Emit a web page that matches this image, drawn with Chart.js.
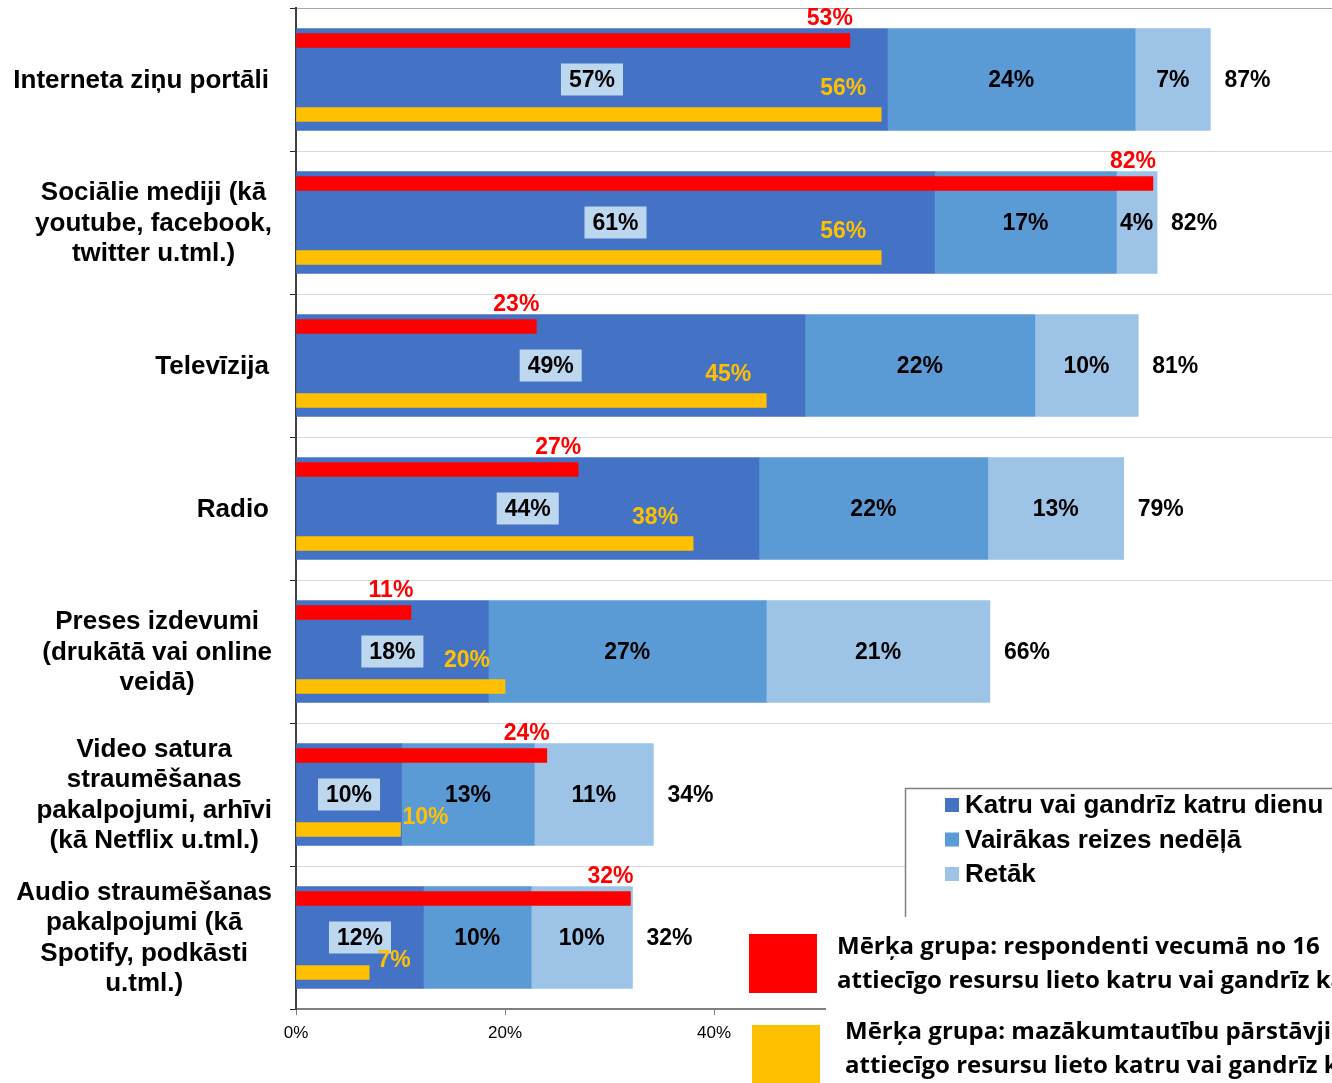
<!DOCTYPE html>
<html>
<head>
<meta charset="utf-8">
<script src="https://cdn.jsdelivr.net/npm/chart.js@4/dist/chart.umd.min.js"></script>
<style>
  html, body { margin: 0; padding: 0; background: #fff; overflow: hidden; }
  #wrap { width: 1341px; height: 1083px; position: relative; }
</style>
</head>
<body>
<div id="wrap"><canvas id="mediaChart" width="1341" height="1083"></canvas></div>
<script>
// kategorijas (rindas)
const categories = [
  ['Interneta ziņu portāli'],
  ['Sociālie mediji (kā', 'youtube, facebook,', 'twitter u.tml.)'],
  ['Televīzija'],
  ['Radio'],
  ['Preses izdevumi', '(drukātā vai online', 'veidā)'],
  ['Video satura', 'straumēšanas', 'pakalpojumi, arhīvi', '(kā Netflix u.tml.)'],
  ['Audio straumēšanas', 'pakalpojumi (kā', 'Spotify, podkāsti', 'u.tml.)']
];

// visi respondenti (%)
const daily  = [56.6, 61.1, 48.7, 44.3, 18.4, 10.1, 12.2];
const weekly = [23.7, 17.4, 22.0, 21.9, 26.6, 12.7, 10.3];
const rarely = [7.2, 3.9, 9.9, 13.0, 21.4, 11.4, 9.7];
const totals = [87, 82, 81, 79, 66, 34, 32];

// mērķa grupas - lieto katru vai gandrīz katru dienu (%)
const youth    = [53, 82, 23, 27, 11, 24, 32];
const minority = [56, 56, 45, 38, 20, 10, 7];

const xTicks = [0, 20, 40];

const seriesNames = ['Katru vai gandrīz katru dienu', 'Vairākas reizes nedēļā', 'Retāk'];
const seriesColors = ['#4472C4', '#5B9BD5', '#9DC3E6'];
const youthLegend = ['Mērķa grupa: respondenti vecumā no 16', 'attiecīgo resursu lieto katru vai gandrīz katru dienu'];
const minorityLegend = ['Mērķa grupa: mazākumtautību pārstāvji', 'attiecīgo resursu lieto katru vai gandrīz katru dienu'];

const ARIAL = "'Liberation Sans', Arial, sans-serif";
Chart.defaults.font.family = ARIAL;
Chart.defaults.color = '#000';

// mazās joslas novietotas virs / zem galvenās joslas
const youthPts = youth.map(function (v, i) { return { x: v, y: i - 0.273 }; });
const minorityPts = minority.map(function (v, i) { return { x: v, y: i + 0.245 }; });

// uzraksti, kategoriju nosaukumi, leģenda
const labelPlugin = {
  id: 'labelPlugin',
  afterDatasetsDraw(chart) {
    const ctx = chart.ctx;
    ctx.save();
    ctx.textBaseline = 'middle';
    ctx.font = 'bold 23px ' + ARIAL;

    // zilie segmenti
    for (let d = 0; d < 3; d++) {
      const meta = chart.getDatasetMeta(d);
      meta.data.forEach(function (el, i) {
        const cx = (el.x + el.base) / 2;
        const txt = Math.round(chart.data.datasets[d].data[i]) + '%';
        if (d === 0) {
          const w = ctx.measureText(txt).width;
          ctx.fillStyle = '#BDD7EE';
          ctx.fillRect(cx - w / 2 - 8, el.y - 16, w + 16, 32);
        }
        ctx.fillStyle = '#000';
        ctx.textAlign = 'center';
        ctx.fillText(txt, cx, el.y + 1);
        if (d === 2) {
          ctx.textAlign = 'left';
          ctx.fillText(totals[i] + '%', el.x + 14, el.y + 1);
        }
      });
    }

    // sarkanā grupa
    chart.getDatasetMeta(3).data.forEach(function (el, i) {
      ctx.fillStyle = '#FF0000';
      ctx.textAlign = 'center';
      ctx.fillText(youth[i] + '%', el.x - 20, el.y - 22);
    });

    // dzeltenā grupa
    chart.getDatasetMeta(4).data.forEach(function (el, i) {
      ctx.fillStyle = '#FFC000';
      ctx.textAlign = 'center';
      if (minority[i] >= 15) {
        ctx.fillText(minority[i] + '%', el.x - 38, el.y - 26);
      } else {
        ctx.fillText(minority[i] + '%', el.x + 25, el.y - 12);
      }
    });
    ctx.restore();
  },
  afterDraw(chart) {
    const ctx = chart.ctx;
    const yScale = chart.scales.y;
    ctx.save();
    ctx.textBaseline = 'middle';

    // kategoriju nosaukumi
    ctx.font = 'bold 26px ' + ARIAL;
    ctx.fillStyle = '#000';
    ctx.textAlign = 'center';
    categories.forEach(function (lines, i) {
      const cy = yScale.getPixelForValue(i);
      let bw = 0;
      lines.forEach(function (l) { bw = Math.max(bw, ctx.measureText(l).width); });
      const cx = (lines.length === 1 ? 269 : 272) - bw / 2;
      const lh = 30.5;
      const y0 = cy - (lines.length - 1) * lh / 2;
      lines.forEach(function (l, k) { ctx.fillText(l, cx, y0 + k * lh + 1); });
    });

    // leģendas rāmis
    ctx.fillStyle = '#fff';
    ctx.fillRect(906, 789, 440, 128);
    ctx.strokeStyle = '#7F7F7F';
    ctx.lineWidth = 1.5;
    ctx.beginPath();
    ctx.moveTo(905.5, 917);
    ctx.lineTo(905.5, 788.5);
    ctx.lineTo(1341, 788.5);
    ctx.stroke();

    ctx.font = 'bold 26px ' + ARIAL;
    ctx.textAlign = 'left';
    seriesNames.forEach(function (name, k) {
      const y = 805 + k * 34.5;
      ctx.fillStyle = seriesColors[k];
      ctx.fillRect(945, y - 7, 14, 14);
      ctx.fillStyle = '#000';
      ctx.fillText(name, 965, y + 1);
    });

    // mērķa grupu leģenda
    ctx.fillStyle = '#fff';
    ctx.fillRect(826, 925, 520, 160);
    ctx.fillStyle = '#FF0000';
    ctx.fillRect(749, 934, 68, 59);
    ctx.fillStyle = '#FFC000';
    ctx.fillRect(752, 1025, 68, 58);

    ctx.fillStyle = '#000';
    ctx.font = "bold 24px 'Open Sans', sans-serif";
    ctx.fillText(youthLegend[0], 837, 947);
    ctx.fillText(youthLegend[1], 837, 981);
    ctx.fillText(minorityLegend[0], 845, 1032);
    ctx.fillText(minorityLegend[1], 845, 1066);
    ctx.restore();
  }
};

const ctx = document.getElementById('mediaChart');
const mediaChart = new Chart(ctx, {
  type: 'bar',
  data: {
    labels: categories,
    datasets: [
      { label: seriesNames[0], data: daily, backgroundColor: seriesColors[0], stack: 'all', yAxisID: 'y', barThickness: 102, grouped: false, order: 2 },
      { label: seriesNames[1], data: weekly, backgroundColor: seriesColors[1], stack: 'all', yAxisID: 'y', barThickness: 102, grouped: false, order: 2 },
      { label: seriesNames[2], data: rarely, backgroundColor: seriesColors[2], stack: 'all', yAxisID: 'y', barThickness: 102, grouped: false, order: 2 },
      { label: 'youth', data: youthPts, backgroundColor: '#FF0000', yAxisID: 'yPos', barThickness: 14, grouped: false, order: 1 },
      { label: 'minority', data: minorityPts, backgroundColor: '#FFC000', yAxisID: 'yPos', barThickness: 14, grouped: false, order: 1 }
    ]
  },
  options: {
    indexAxis: 'y',
    responsive: false,
    animation: false,
    layout: { padding: { top: 8, left: 0, right: 0, bottom: 0 } },
    plugins: { legend: { display: false }, tooltip: { enabled: false } },
    scales: {
      x: {
        stacked: true,
        min: 0,
        max: 100,
        ticks: {
          stepSize: 20,
          padding: 8,
          font: { size: 17 },
          callback: function (v) { return xTicks.indexOf(v) >= 0 ? v + '%' : ''; }
        },
        grid: { drawOnChartArea: false, drawTicks: true, tickLength: 6, tickColor: '#7F7F7F' },
        border: { color: '#7F7F7F', width: 2 },
        afterFit: function (scale) { scale.height = 74; scale.paddingRight = 0; }
      },
      y: {
        type: 'category',
        offset: true,
        stacked: true,
        ticks: { display: false },
        grid: {
          color: function (c) { return c.index === 0 ? '#A6A6A6' : '#D9D9D9'; },
          tickColor: '#262626',
          tickLength: 6,
          offset: true
        },
        border: { color: '#404040', width: 2 },
        afterFit: function (scale) { scale.width = 296; }
      },
      yPos: {
        type: 'linear',
        display: false,
        offset: false,
        grace: 0,
        min: -0.5,
        max: 6.5,
        reverse: true
      }
    }
  },
  plugins: [labelPlugin]
});
</script>
</body>
</html>
